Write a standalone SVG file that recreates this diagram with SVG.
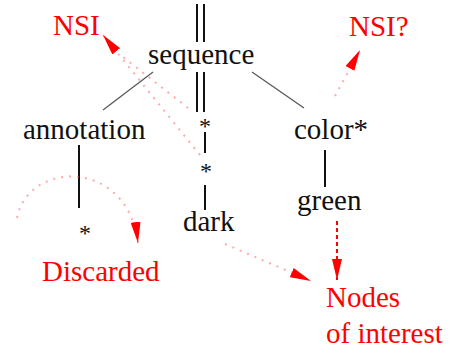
<svg xmlns="http://www.w3.org/2000/svg" width="459" height="353" viewBox="0 0 459 353">
  <style>
    .t { font-size: 29px; fill: #111; }
    .red { fill: #f00; }
    .star { font-size: 24px; }
    .v { stroke: #111; stroke-width: 2; fill: none; }
    .d { stroke: #555; stroke-width: 1.2; fill: none; }
    .dot { stroke: #f55; stroke-opacity: 0.5; stroke-width: 2; stroke-dasharray: 2 6; fill: none; }
    .dash { stroke: #f00; stroke-width: 2; stroke-dasharray: 4 3; fill: none; }
  </style>
  <defs>
    <marker id="arrow" markerUnits="userSpaceOnUse" viewBox="0 0 21 10" markerWidth="21" markerHeight="10" refX="21" refY="5" orient="auto">
      <path d="M0,0 L21,5 L0,10 z" fill="#f00"/>
    </marker>
  </defs>
  <rect width="459" height="353" fill="#fff"/>

  <!-- connectors -->
  <g id="connectors">
    <!-- double lines along the sequence spine -->
    <line class="v" x1="197" y1="4" x2="197" y2="42"/>
    <line class="v" x1="204" y1="4" x2="204" y2="42"/>
    <line class="v" x1="197" y1="72" x2="197" y2="112"/>
    <line class="v" x1="204" y1="72" x2="204" y2="112"/>
    <line class="v" x1="205" y1="132" x2="205" y2="153"/>
    <line class="v" x1="205" y1="185" x2="205" y2="210"/>
    <!-- branches -->
    <line class="d" x1="153" y1="72" x2="103" y2="110"/>
    <line class="d" x1="252" y1="72" x2="304" y2="108"/>
    <line class="v" x1="79" y1="145" x2="79" y2="208"/>
    <line class="v" x1="325" y1="150" x2="325" y2="187"/>
    <!-- highlighted paths -->
    <line class="dot" x1="188" y1="108" x2="123" y2="57"/>
    <path class="dot" d="M200,155 L103,35" marker-end="url(#arrow)"/>
    <path class="dot" d="M335,96 L360,50" marker-end="url(#arrow)"/>
    <path class="dot" d="M17,218 C28,160 128,158 138,243" marker-end="url(#arrow)"/>
    <path class="dot" d="M225,244 L311,281" marker-end="url(#arrow)"/>
    <path class="dash" d="M337,221 L337,280" marker-end="url(#arrow)"/>
  </g>

  <g font-family="'Liberation Serif', 'DejaVu Serif', serif">
    <g id="sequence"><text class="t" x="148" y="64">sequence</text></g>
    <g id="annotation"><text class="t" x="23" y="139">annotation</text></g>
    <g id="color"><text class="t" x="294" y="139">color*</text></g>
    <g id="star1"><text class="t star" x="205" y="134" text-anchor="middle">*</text></g>
    <g id="star2"><text class="t star" x="206" y="179" text-anchor="middle">*</text></g>
    <g id="dark"><text class="t" x="183" y="231">dark</text></g>
    <g id="green"><text class="t" x="297" y="210">green</text></g>
    <g id="star3"><text class="t star" x="85" y="241" text-anchor="middle">*</text></g>
    <g id="nsi"><text class="t red" x="53" y="35">NSI</text></g>
    <g id="nsi-q"><text class="t red" x="349" y="36">NSI?</text></g>
    <g id="discarded"><text class="t red" x="42" y="281">Discarded</text></g>
    <g id="nodes-of-interest">
      <text class="t red" x="326" y="307">Nodes</text>
      <text class="t red" x="326" y="343">of interest</text>
    </g>
  </g>
</svg>
